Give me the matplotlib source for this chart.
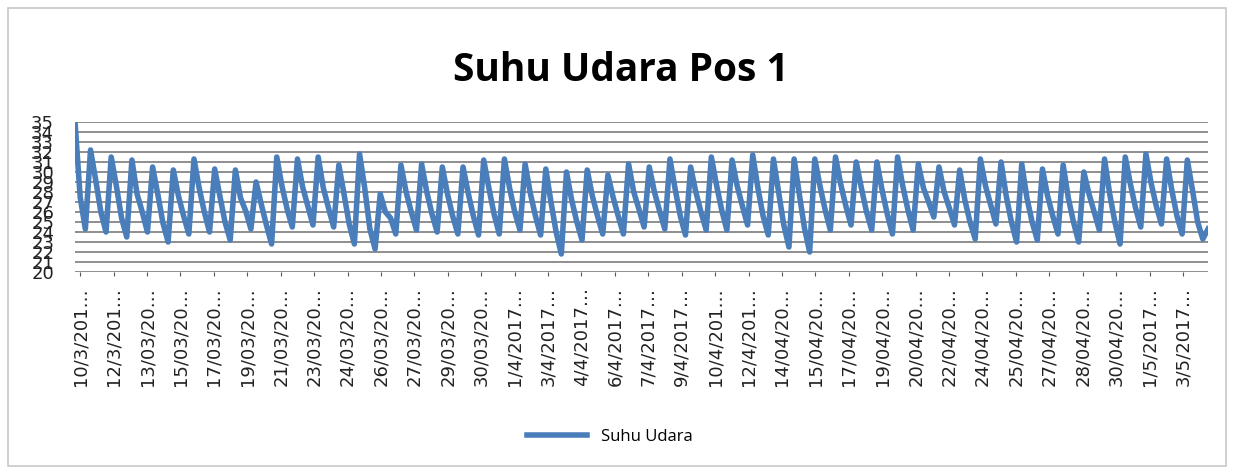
import matplotlib
matplotlib.use("Agg")
import matplotlib.pyplot as plt
from matplotlib.patches import Rectangle
import numpy as np

# air temperature, one reading every 6 hours (first reading 18:00),
# each row is one day: 00:00, 06:00, 12:00, 18:00
temp = [
    35.0,
    27.5, 24.3, 32.2, 29.2,
    26.0, 24.0, 31.5, 28.6,
    25.4, 23.5, 31.2, 27.8,
    26.0, 24.0, 30.5, 27.8,
    24.9, 23.0, 30.2, 27.6,
    25.6, 23.8, 31.3, 28.4,
    26.0, 24.0, 30.3, 27.6,
    25.0, 23.2, 30.2, 27.4,
    26.1, 24.3, 29.0, 26.8,
    24.7, 22.8, 31.5, 28.6,
    26.3, 24.5, 31.3, 28.5,
    26.6, 24.7, 31.5, 28.4,
    26.4, 24.5, 30.7, 27.8,
    24.8, 22.8, 31.8, 28.4,
    24.3, 22.3, 27.8, 26.0,
    25.4, 23.8, 30.7, 28.0,
    26.0, 24.2, 30.8, 28.0,
    25.8, 24.0, 30.5, 27.8,
    25.6, 23.8, 30.5, 27.9,
    25.6, 23.7, 31.2, 28.4,
    25.8, 23.8, 31.3, 28.4,
    26.0, 24.2, 30.8, 27.9,
    25.6, 23.7, 30.3, 27.0,
    24.0, 21.8, 30.0, 27.2,
    25.0, 23.2, 30.2, 27.6,
    25.6, 23.8, 29.7, 27.5,
    25.6, 23.8, 30.8, 28.0,
    26.3, 24.5, 30.5, 28.0,
    26.1, 24.3, 31.3, 28.3,
    25.6, 23.7, 30.5, 28.0,
    26.0, 24.2, 31.5, 28.7,
    26.2, 24.2, 31.2, 28.6,
    26.6, 24.7, 31.7, 28.4,
    25.6, 23.7, 31.3, 28.0,
    24.7, 22.5, 31.3, 27.8,
    24.4, 22.0, 31.3, 28.6,
    26.2, 24.2, 31.5, 28.8,
    26.6, 24.7, 31.0, 28.4,
    26.0, 24.2, 31.0, 28.2,
    25.8, 23.8, 31.5, 28.6,
    26.2, 24.2, 30.8, 28.4,
    27.0, 25.5, 30.5, 28.0,
    26.4, 24.7, 30.2, 27.2,
    25.0, 23.3, 31.3, 28.6,
    26.7, 24.8, 31.0, 27.6,
    25.0, 23.0, 30.8, 27.4,
    25.0, 23.2, 30.3, 27.6,
    25.6, 23.8, 30.7, 27.4,
    25.0, 23.0, 30.0, 27.8,
    26.0, 24.2, 31.3, 27.8,
    25.0, 22.8, 31.5, 28.8,
    26.4, 24.5, 31.8, 28.9,
    26.6, 24.8, 31.3, 28.2,
    25.6, 23.8, 31.2, 28.2,
    25.0, 23.3, 24.3,
]

date_labels = [
    "10/3/201…", "12/3/201…", "13/03/20…", "15/03/20…", "17/03/20…",
    "19/03/20…", "21/03/20…", "23/03/20…", "24/03/20…", "26/03/20…",
    "27/03/20…", "29/03/20…", "30/03/20…", "1/4/2017…", "3/4/2017…",
    "4/4/2017…", "6/4/2017…", "7/4/2017…", "9/4/2017…", "10/4/201…",
    "12/4/201…", "14/04/20…", "15/04/20…", "17/04/20…", "19/04/20…",
    "20/04/20…", "22/04/20…", "24/04/20…", "25/04/20…", "27/04/20…",
    "28/04/20…", "30/04/20…", "1/5/2017…", "3/5/2017…",
]

hours = np.arange(len(temp)) * 6
tick_pos = np.linspace(6, hours[-1] - 29, len(date_labels))

fig = plt.figure(figsize=(12.34, 4.71), dpi=100)
fig.patch.set_facecolor("white")
fig.patches.append(Rectangle((8 / 1234, 5 / 471), 1218 / 1234, 458 / 471,
                             transform=fig.transFigure, fill=False,
                             edgecolor="#c8c8c8", linewidth=1.2))

ax = fig.add_axes([75 / 1234, 1 - 272 / 471, 1133 / 1234, 150 / 471])
ax.plot(hours, temp, color="#4a7ebb", linewidth=4.0, label="Suhu Udara",
        solid_joinstyle="round", zorder=3)

ax.set_xlim(0, hours[-1])
ax.set_ylim(20, 35)
ax.set_yticks(range(20, 36))
ax.set_xticks(tick_pos)
ax.set_xticklabels(date_labels, rotation=90, fontsize=13, family="DejaVu Sans",
                   color="#222222")
ax.tick_params(axis="y", length=0, pad=15, labelsize=13, labelcolor="#222222")
ax.tick_params(axis="x", length=3, color="#555555", pad=8)
ax.grid(axis="y", color="#868686", linewidth=1.3)
for s in ax.spines.values():
    s.set_visible(False)

fig.text(0.503, 0.85, "Suhu Udara Pos 1", ha="center", va="center",
         fontsize=28, fontweight="bold", family="Open Sans")

fig.legend(loc="center", bbox_to_anchor=(610 / 1234, 1 - 437 / 471),
           frameon=False, handlelength=3.6,
           prop={"family": "Open Sans", "size": 12})

fig.savefig("out.png", dpi=100)
